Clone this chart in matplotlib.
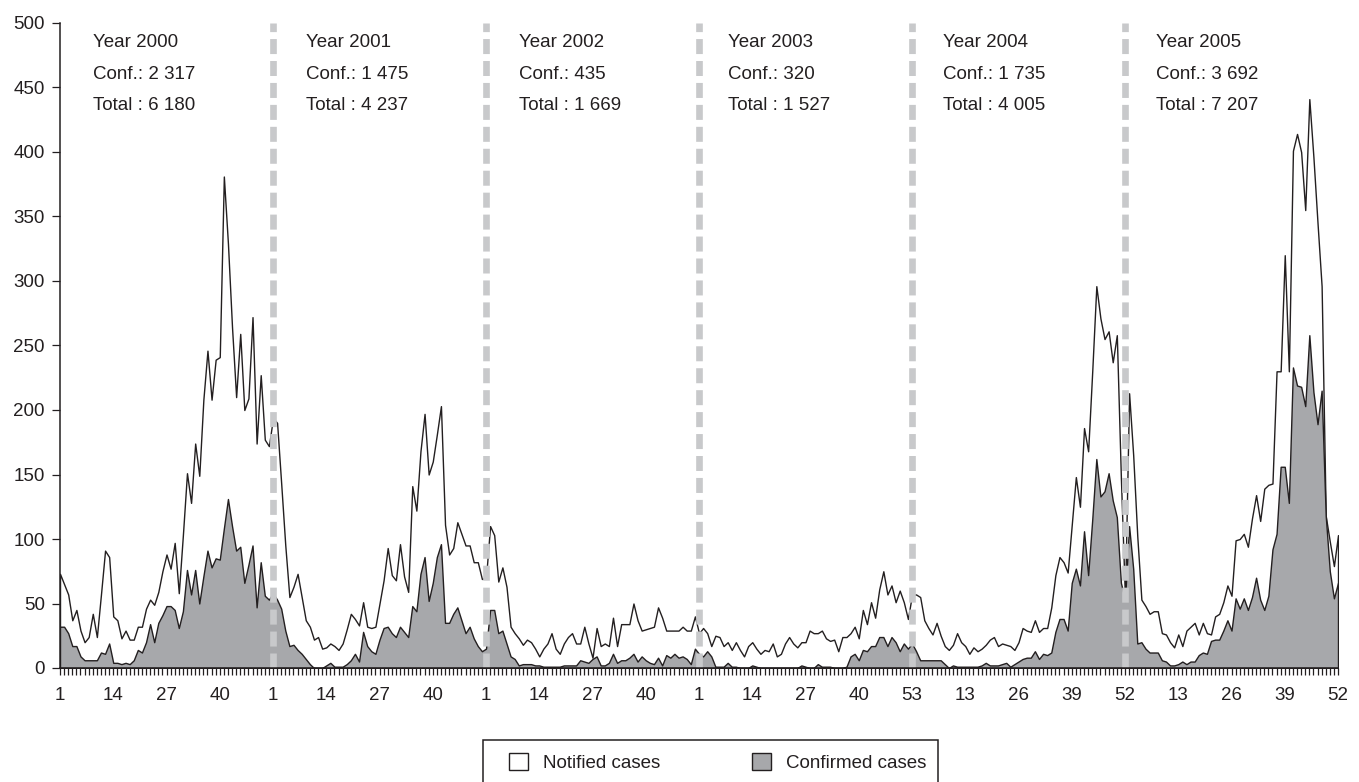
import matplotlib.pyplot as plt
from matplotlib.patches import Rectangle

plt.rcParams['font.family'] = ['Liberation Sans', 'DejaVu Sans']
plt.rcParams['lines.scale_dashes'] = False

# weekly case counts, one list per year (2003 has 53 weeks)
notified_2000 = [73, 65, 57, 37, 45, 29, 20, 24, 42, 24,
                 57, 91, 86, 40, 37, 23, 29, 22, 22, 32,
                 32, 46, 53, 49, 59, 75, 88, 77, 97, 58,
                 103, 151, 128, 174, 149, 208, 246, 208, 239, 241,
                 381, 329, 264, 210, 259, 200, 209, 272, 174, 227,
                 177, 172]
confirmed_2000 = [32, 32, 27, 17, 17, 9, 6, 6, 6, 6,
                  12, 11, 19, 4, 4, 3, 4, 3, 6, 14,
                  12, 20, 34, 20, 35, 41, 48, 48, 45, 31,
                  44, 76, 57, 76, 50, 71, 91, 78, 85, 84,
                  108, 131, 110, 91, 94, 66, 80, 95, 47, 82,
                  56, 53]

notified_2001 = [194, 190, 143, 95, 55, 63, 73, 55, 37, 32,
                 22, 24, 15, 16, 19, 17, 14, 19, 30, 42,
                 38, 33, 51, 32, 31, 32, 50, 68, 93, 72,
                 68, 96, 71, 59, 141, 122, 168, 197, 150, 160,
                 181, 203, 111, 88, 93, 113, 104, 95, 95, 82,
                 82, 69]
confirmed_2001 = [58, 53, 46, 29, 17, 18, 14, 11, 7, 3,
                  0, 0, 0, 2, 4, 1, 1, 1, 3, 6,
                  11, 5, 28, 17, 13, 11, 22, 31, 32, 27,
                  24, 32, 28, 24, 48, 44, 73, 86, 52, 66,
                  86, 96, 35, 35, 42, 47, 37, 27, 32, 23,
                  17, 13]

notified_2002 = [70, 110, 103, 67, 78, 63, 32, 27, 23, 18,
                 22, 20, 15, 9, 15, 19, 27, 15, 11, 19,
                 24, 27, 19, 19, 32, 19, 8, 31, 17, 19,
                 17, 39, 17, 34, 34, 34, 50, 37, 29, 30,
                 31, 32, 47, 39, 29, 29, 29, 29, 32, 29,
                 29, 40]
confirmed_2002 = [15, 45, 45, 27, 29, 19, 9, 7, 2, 3,
                  3, 3, 2, 2, 1, 1, 1, 1, 1, 2,
                  2, 2, 2, 6, 5, 4, 7, 9, 2, 2,
                  4, 11, 4, 6, 6, 8, 11, 5, 9, 6,
                  4, 3, 8, 2, 10, 8, 11, 8, 9, 7,
                  3, 15]

notified_2003 = [27, 31, 27, 17, 25, 24, 17, 20, 14, 20,
                 14, 9, 17, 20, 15, 11, 14, 13, 19, 9,
                 11, 19, 24, 19, 16, 20, 20, 29, 27, 27,
                 29, 23, 21, 22, 13, 24, 24, 27, 32, 23,
                 45, 34, 51, 39, 61, 75, 57, 64, 51, 60,
                 51, 38, 57]
confirmed_2003 = [11, 9, 13, 9, 1, 1, 1, 4, 1, 1,
                  0, 0, 0, 2, 1, 0, 0, 0, 0, 0,
                  0, 0, 0, 0, 0, 2, 1, 0, 0, 3,
                  1, 1, 1, 0, 0, 0, 1, 9, 11, 6,
                  14, 13, 17, 17, 24, 24, 17, 24, 20, 13,
                  19, 15, 19]

notified_2004 = [57, 55, 37, 31, 26, 35, 25, 17, 14, 18,
                 27, 20, 17, 11, 16, 13, 15, 18, 22, 24,
                 17, 19, 18, 17, 14, 20, 31, 29, 28, 37,
                 28, 31, 31, 47, 72, 86, 82, 74, 111, 148,
                 125, 186, 168, 230, 296, 271, 255, 261, 237, 258,
                 147, 53]
confirmed_2004 = [13, 6, 6, 6, 6, 6, 6, 3, 0, 2,
                  1, 1, 1, 1, 1, 1, 2, 4, 2, 2,
                  2, 3, 4, 1, 3, 5, 7, 8, 8, 13,
                  7, 11, 10, 12, 28, 38, 38, 29, 66, 77,
                  64, 106, 72, 115, 162, 133, 137, 151, 130, 117,
                  66, 53]

notified_2005 = [213, 165, 102, 53, 48, 42, 44, 44, 27, 26,
                 20, 16, 26, 17, 29, 32, 35, 26, 35, 27,
                 26, 40, 42, 51, 64, 56, 99, 100, 104, 94,
                 116, 134, 114, 139, 142, 143, 230, 230, 320, 230,
                 401, 414, 400, 355, 441, 396, 345, 296, 118, 98,
                 79, 103]
confirmed_2005 = [110, 77, 19, 20, 15, 12, 12, 12, 6, 5,
                  2, 2, 3, 5, 3, 5, 5, 10, 12, 11,
                  21, 22, 22, 29, 37, 29, 54, 46, 54, 45,
                  55, 70, 53, 45, 56, 92, 104, 156, 156, 128,
                  233, 219, 218, 203, 258, 214, 189, 215, 118, 75,
                  54, 66]

years = ['2000', '2001', '2002', '2003', '2004', '2005']
conf_totals = ['2 317', '1 475', '435', '320', '1 735', '3 692']
all_totals = ['6 180', '4 237', '1 669', '1 527', '4 005', '7 207']
tick_labels = ['1', '14', '27', '40', '1', '14', '27', '40', '1', '14', '27', '40',
               '1', '14', '27', '40', '53', '13', '26', '39', '52', '13', '26', '39', '52']

notified = (notified_2000 + notified_2001 + notified_2002 +
            notified_2003 + notified_2004 + notified_2005)
confirmed = (confirmed_2000 + confirmed_2001 + confirmed_2002 +
             confirmed_2003 + confirmed_2004 + confirmed_2005)
weeks = list(range(len(notified)))

dark = '#231f20'
grey = '#a7a8ab'
sep_color = '#c8c9cb'

fig = plt.figure(figsize=(13.59, 7.82), dpi=100)
ax = fig.add_axes([60 / 1359, 114 / 782, 1278 / 1359, 645 / 782])

ax.fill_between(weeks, notified, facecolor='white', edgecolor=dark,
                linewidth=1.0, label='Notified cases', zorder=2)
ax.fill_between(weeks, confirmed, facecolor=grey, edgecolor=dark,
                linewidth=1.0, label='Confirmed cases', zorder=3)

# year separators, every 52 weeks
for k in range(1, 6):
    ax.axvline(52 * k, color=sep_color, linewidth=4.8,
               linestyle=(0, (10.8, 5.0)), zorder=4)

text_offsets = [8, 8, 8, 7, 7.5, 7.5]
for k, year in enumerate(years):
    x0 = 52 * k + text_offsets[k]
    ax.text(x0, 485, 'Year ' + year, fontsize=13.5, color=dark, va='center')
    ax.text(x0, 460, 'Conf.: ' + conf_totals[k], fontsize=13.5, color=dark, va='center')
    ax.text(x0, 436, 'Total : ' + all_totals[k], fontsize=13.5, color=dark, va='center')

ax.set_xlim(0, len(weeks) - 1)
ax.set_ylim(0, 500)
ax.set_yticks(range(0, 501, 50))
ax.set_xticks(range(0, len(weeks), 13))
ax.set_xticklabels(tick_labels)
ax.set_xticks(weeks, minor=True)

for side in ['top', 'right']:
    ax.spines[side].set_visible(False)
for side in ['left', 'bottom']:
    ax.spines[side].set_linewidth(1.1)
    ax.spines[side].set_color(dark)
    ax.spines[side].set_zorder(6)

ax.tick_params(axis='both', which='both', direction='out', color=dark,
               labelcolor=dark, labelsize=13.5, width=0.9)
ax.tick_params(axis='y', length=6, pad=5)
ax.tick_params(axis='x', which='major', length=5, pad=9)
ax.tick_params(axis='x', which='minor', length=5)

fig.legend(loc='upper left', bbox_to_anchor=(500 / 1359, 1 - 744 / 782),
           ncol=2, frameon=False, borderpad=0, handlelength=1.0,
           handleheight=1.0, handletextpad=0.8, columnspacing=4.9,
           fontsize=13.5, labelcolor=dark)
fig.add_artist(Rectangle((483 / 1359, -0.05), 455 / 1359, 42 / 782 + 0.05,
                         transform=fig.transFigure, fill=False,
                         edgecolor=dark, linewidth=1.1))

fig.savefig('out.png', dpi=100)
